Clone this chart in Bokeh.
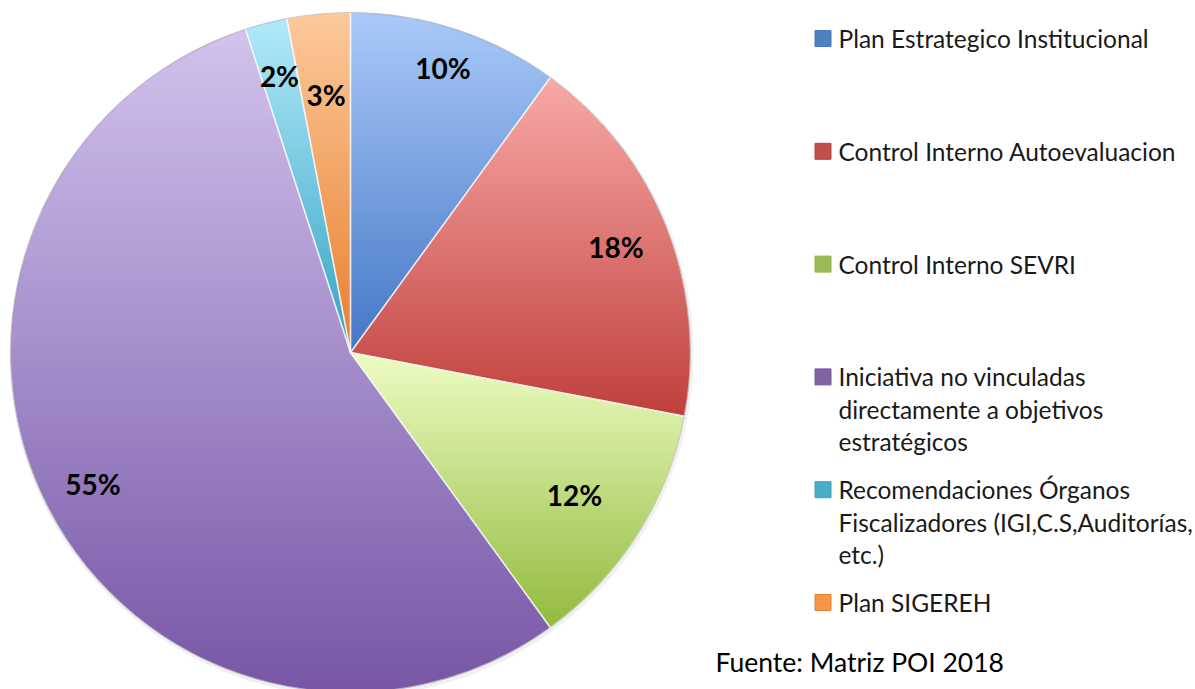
import numpy as np
from bokeh.plotting import figure
from bokeh.models import Range1d
from bokeh.core.properties import value
from bokeh.embed import file_html
from bokeh.resources import INLINE

# ---------------- data ----------------
categories = [
    "Plan Estrategico Institucional",
    "Control Interno Autoevaluacion",
    "Control Interno SEVRI",
    "Iniciativa  no vinculadas\ndirectamente a objetivos\nestratégicos",
    "Recomendaciones Órganos\nFiscalizadores (IGI,C.S,Auditorías,\netc.)",
    "Plan SIGEREH",
]
values = [10, 18, 12, 55, 2, 3]
source_note = "Fuente:  Matriz POI 2018"

# ---------------- styles ----------------
colors_mid = ["#4f81bd", "#c0504d", "#9bbb59", "#8064a2", "#4bacc6", "#f79646"]
colors_top = ["#aacaf9", "#f9aaa9", "#eefdc4", "#d3c3ee", "#b2eaf9", "#fdca9c"]
colors_bot = ["#4477c6", "#c0403b", "#92bb3e", "#7757a6", "#36a3c4", "#e87f2e"]
label_rf = [0.88, 0.84, 0.78, 0.85, 0.84, 0.76]

W, H = 1195, 689
cx, cy, R = 350.0, 337.0, 340.0

p = figure(width=W, height=H, output_backend="svg", toolbar_location=None,
           x_range=Range1d(0, W), y_range=Range1d(0, H), min_border=0)
p.axis.visible = False
p.grid.visible = False
p.outline_line_color = None
p.background_fill_color = "white"

vals = np.array(values, dtype=float)
fr = vals / vals.sum()
cum = np.cumsum(fr)
prev = np.concatenate([[0.0], cum[:-1]])
start = np.pi / 2 - 2 * np.pi * prev
end = np.pi / 2 - 2 * np.pi * cum

# soft shadow ring
p.circle(x=cx + 1, y=cy - 2, radius=R + 2, fill_color="#000000", fill_alpha=0.06, line_color=None)

# base wedges
p.wedge(x=cx, y=cy, radius=R, start_angle=list(start), end_angle=list(end),
        direction="clock", fill_color=colors_mid, line_color=None)

# vertical gradient shading for each slice (computed from the slice geometry)
def hex2rgb(h):
    h = h.lstrip("#")
    return [int(h[i:i + 2], 16) for i in (0, 2, 4)]

top_rgb = np.array([hex2rgb(c) for c in colors_top], dtype=float)
bot_rgb = np.array([hex2rgb(c) for c in colors_bot], dtype=float)
ytop, ybot = [], []
for a0, a1 in zip(prev, cum):
    ang = np.linspace(a0, a1, 400) * 2 * np.pi
    ya = np.concatenate([[cy], cy + R * np.cos(ang)])
    ytop.append(ya.max())
    ybot.append(ya.min())
ytop = np.array(ytop)
ybot = np.array(ybot)

N = int(2 * R)
xs = cx - R + np.arange(N) + 0.5
ys = cy - R + np.arange(N) + 0.5
X, Y = np.meshgrid(xs, ys)
dx, dy = X - cx, Y - cy
rr = np.hypot(dx, dy)
theta = np.mod(np.arctan2(dx, dy), 2 * np.pi) / (2 * np.pi)
idx = np.clip(np.searchsorted(cum, theta, side="right"), 0, len(values) - 1)
t = np.clip((ytop[idx] - Y) / (ytop[idx] - ybot[idx]), 0, 1)[..., None]
rgb = top_rgb[idx] * (1 - t) + bot_rgb[idx] * t
alpha = np.clip(R - rr, 0, 1) * 255
img = np.zeros((N, N, 4), dtype=np.uint8)
img[..., :3] = np.clip(rgb, 0, 255).astype(np.uint8)
img[..., 3] = alpha.astype(np.uint8)
p.image_rgba(image=[img.view(dtype=np.uint32).reshape((N, N))], x=cx - R, y=cy - R, dw=2 * R, dh=2 * R)

# slice borders
p.wedge(x=cx, y=cy, radius=R, start_angle=list(start), end_angle=list(end),
        direction="clock", fill_color=None, line_color="white", line_alpha=0.6, line_width=1.5)
p.circle(x=cx, y=cy, radius=R, fill_color=None, line_color="#808080", line_alpha=0.35, line_width=1)

# percentage labels
mid = (prev + cum) / 2 * 2 * np.pi
lx = cx + np.array(label_rf) * R * np.sin(mid)
ly = cy + np.array(label_rf) * R * np.cos(mid)
p.text(x=list(lx), y=list(ly), text=[f"{v:.0f}%" for v in values],
       text_font=value("Lato"), text_font_style="bold", text_font_size="28px",
       text_color="black", text_align="center", text_baseline="middle")

# legend (manual, laid out like the original)
row0, row_step, line_step = H - 38, 112.8, 32.5
mk_x, tx_x = 822.5, 838
mk_y = [row0 - i * row_step for i in range(len(categories))]
p.scatter(x=[mk_x] * len(categories), y=mk_y, marker="square", size=16,
          fill_color=colors_mid, line_color=colors_bot, line_width=1)
lines_txt, lines_y = [], []
for i, cat in enumerate(categories):
    for k, ln in enumerate(cat.split("\n")):
        lines_txt.append(ln)
        lines_y.append(mk_y[i] - k * line_step)
p.text(x=[tx_x] * len(lines_txt), y=lines_y, text=lines_txt,
       text_font=value("Lato"), text_font_size="24.5px", text_color="#1a1a1a",
       text_align="left", text_baseline="middle")

p.text(x=[715], y=[H - 661], text=[source_note], text_font=value("Lato"),
       text_font_size="26.5px", text_color="black", text_align="left", text_baseline="middle")

open("out.html", "w").write(file_html(p, INLINE))
